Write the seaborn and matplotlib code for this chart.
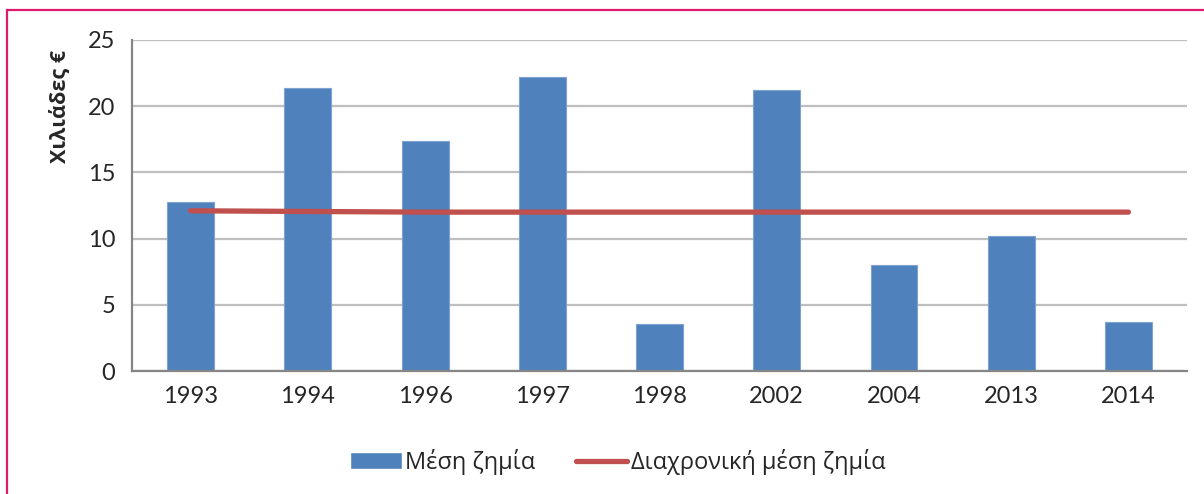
import matplotlib
matplotlib.use("Agg")
import matplotlib.pyplot as plt
import seaborn as sns
import pandas as pd
from matplotlib.patches import Patch, Rectangle
from matplotlib.lines import Line2D

# chart data
years = ["1993", "1994", "1996", "1997", "1998", "2002", "2004", "2013", "2014"]
mean_loss = [12.75, 21.35, 17.4, 22.2, 3.55, 21.2, 8.0, 10.2, 3.7]
overall_mean = [12.1, 12.05, 12.0, 12.0, 12.0, 12.0, 12.0, 12.0, 12.0]
y_ticks = [0, 5, 10, 15, 20, 25]

BAR_COLOR = "#4F81BD"
LINE_COLOR = "#C0504D"
GRID_COLOR = "#BFBFBF"
AXIS_COLOR = "#868686"

sns.set_theme(style="white")
plt.rcParams["font.family"] = ["Open Sans", "DejaVu Sans"]

df = pd.DataFrame({"year": years, "loss": mean_loss, "mean": overall_mean})

fig = plt.figure(figsize=(12.04, 4.94), dpi=100)
ax = fig.add_axes([132 / 1204, 1 - 371 / 494, (1187 - 132) / 1204, (371 - 40) / 494])

sns.barplot(data=df, x="year", y="loss", color=BAR_COLOR, width=0.4,
            saturation=1, edgecolor="#7FA3D0", linewidth=0.8, ax=ax, zorder=2)
ax.plot(range(len(years)), df["mean"], color=LINE_COLOR, linewidth=3.8,
        solid_capstyle="round", zorder=3)

ax.set_xlim(-0.5, len(years) - 0.5)
ax.set_ylim(0, 25)
ax.set_yticks(y_ticks)
ax.yaxis.grid(True, color=GRID_COLOR, linewidth=1.6)
ax.set_axisbelow(True)

# Excel-like x ticks between categories
ax.set_xticks([i - 0.5 for i in range(len(years) + 1)], minor=False)
ax.set_xticklabels([])
ax.set_xticks(range(len(years)), minor=True)
ax.set_xticklabels(years, minor=True)
ax.tick_params(axis="x", which="minor", length=0, pad=11, labelsize=17)
ax.tick_params(axis="x", which="major", length=7, width=1.4, color=AXIS_COLOR, direction="out")
ax.tick_params(axis="y", length=7, width=1.4, color=AXIS_COLOR, direction="out",
               pad=5, labelsize=17)
for lbl in ax.get_xticklabels(minor=True) + ax.get_yticklabels():
    lbl.set_family(["Lato", "DejaVu Sans"])

for side in ["top", "right"]:
    ax.spines[side].set_visible(False)
for side in ["left", "bottom"]:
    ax.spines[side].set_color(AXIS_COLOR)
    ax.spines[side].set_linewidth(1.6)

ax.set_xlabel("")
ax.set_ylabel("Χιλιάδες €", fontsize=15.5, fontweight="bold")
ax.yaxis.set_label_coords(-0.058, 0.80)

handles = [Patch(facecolor=BAR_COLOR, label="Μέση ζημία"),
           Line2D([0], [0], color=LINE_COLOR, linewidth=3.8, label="Διαχρονική μέση ζημία",
                  solid_capstyle="round")]
fig.legend(handles=handles, loc="center", bbox_to_anchor=(0.513, 1 - 462 / 494), ncol=2,
           frameon=False, fontsize=17, handlelength=2.2, handletextpad=0.15,
           columnspacing=1.7)

# pink outer frame
fig.patches.append(Rectangle((7 / 1204, -0.1), 1.2, 1 - 10 / 494 + 0.1,
                             transform=fig.transFigure, fill=False,
                             edgecolor="#E0186E", linewidth=1.6))

fig.savefig("out.png", dpi=100)
